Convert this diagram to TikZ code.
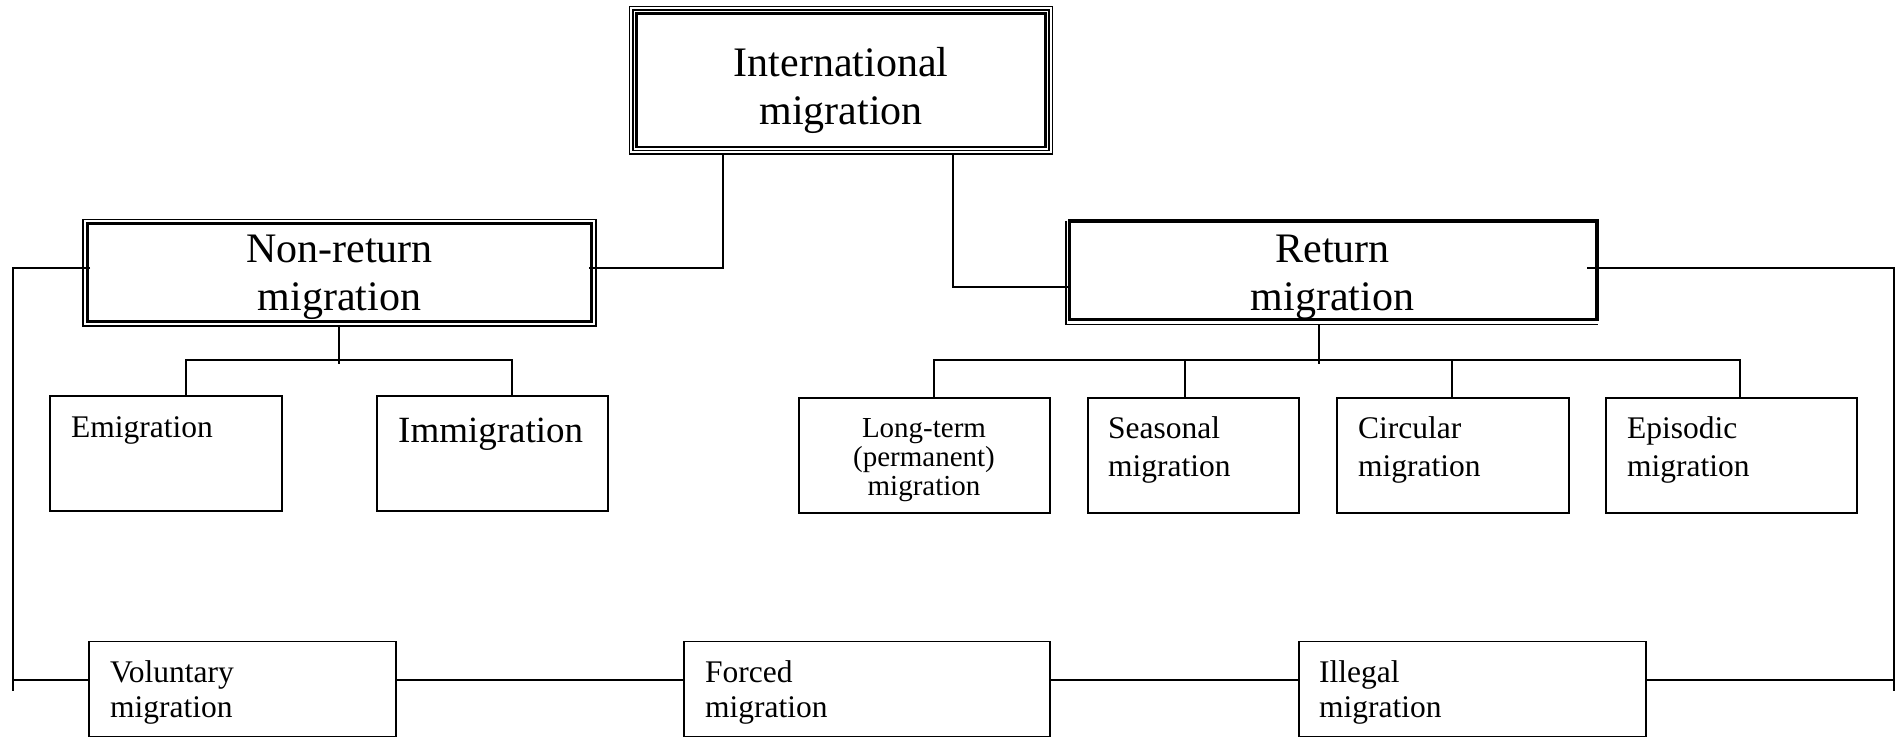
\documentclass[tikz,border=0pt]{standalone}
\usepackage{fontspec}
\setmainfont{Liberation Serif}
\begin{document}
\begin{tikzpicture}[x=1pt,y=-1pt,
  box/.style={draw=black,line width=1.6pt,inner sep=0pt,outer sep=0pt,rectangle},
  conn/.style={draw=black,line width=1.4pt},
  bigtxt/.style={inner sep=0pt,text width=420pt,align=center,anchor=base,font=\fontsize{42}{48}\selectfont},
  midtxt/.style={inner sep=0pt,text width=300pt,align=left,anchor=base west,font=\fontsize{31.5}{38}\selectfont},
  bottxt/.style={inner sep=0pt,text width=300pt,align=left,anchor=base west,font=\fontsize{31.5}{35}\selectfont}]
\useasboundingbox[fill=white] (0,0) rectangle (1903,738);

% top box (triple frame)
\node[box,line width=1.3pt,minimum width=423pt,minimum height=147.5pt] (top) at (841,80.25) {};
\draw[line width=1.3pt] ([shift={(3.5pt,-3.5pt)}]top.north west) rectangle ([shift={(-3.5pt,3.5pt)}]top.south east);
\draw[line width=2.6pt] ([shift={(7pt,-7pt)}]top.north west) rectangle ([shift={(-7pt,7pt)}]top.south east);
\node[bigtxt] (topT) at (841,77) {International\\migration};

% non-return box (double frame)
\node[box,line width=1.3pt,minimum width=513pt,minimum height=106.5pt] (nonret) at (339.5,272.75) {};
\draw[line width=3.4pt] ([shift={(4.3pt,-4.3pt)}]nonret.north west) rectangle ([shift={(-4.3pt,4.3pt)}]nonret.south east);
\node[bigtxt] (nonretT) at (339.5,262) {Non-return\\migration};

% return box
\node[box,line width=3.6pt,minimum width=527.5pt,minimum height=98.5pt] (ret) at (1333.25,270.25) {};
\draw[line width=1.3pt] ([shift={(-3.5pt,0pt)}]ret.north west) -- ([shift={(-3.5pt,-5pt)}]ret.south west) -- ([shift={(1pt,-5pt)}]ret.south east);
\node[bigtxt] (retT) at (1332.5,262) {Return\\migration};

% second-level boxes
\node[box,minimum width=232pt,minimum height=115pt] (emi) at (166,453.5) {};
\node[midtxt] (emiT) at (71,437) {Emigration};
\node[box,minimum width=231pt,minimum height=115pt] (imm) at (492.5,453.5) {};
\node[inner sep=0pt,anchor=base west,font=\fontsize{37}{42}\selectfont] (immT) at (398,442) {Immigration};

\node[box,minimum width=251pt,minimum height=115pt] (lt) at (924.5,455.5) {};
\node[inner sep=0pt,text width=240pt,align=center,anchor=base,font=\fontsize{29}{29}\selectfont] (ltT) at (924,437) {Long-term\\(permanent)\\migration};
\node[box,minimum width=211pt,minimum height=115pt] (sea) at (1193.5,455.5) {};
\node[midtxt] (seaT) at (1108,438) {Seasonal\\migration};
\node[box,minimum width=232pt,minimum height=115pt] (cir) at (1453,455.5) {};
\node[midtxt] (cirT) at (1358,438) {Circular\\migration};
\node[box,minimum width=251pt,minimum height=115pt] (epi) at (1731.5,455.5) {};
\node[midtxt] (epiT) at (1627,438) {Episodic\\migration};

% bottom boxes
\node[box,minimum width=307pt,minimum height=95pt] (vol) at (242.5,689) {};
\node[bottxt] (volT) at (110,682) {Voluntary\\migration};
\node[box,minimum width=366pt,minimum height=95pt] (forc) at (867,689) {};
\node[bottxt] (forcT) at (705,682) {Forced\\migration};
\node[box,minimum width=347pt,minimum height=95pt] (ill) at (1472.5,689) {};
\node[bottxt] (illT) at (1319,682) {Illegal\\migration};

% junction coordinates
\coordinate (jL) at (723,268);
\coordinate (jR) at (953,287);
\coordinate (lc) at (13,268);
\coordinate (lb) at (13,691);
\coordinate (rc) at (1894,268);
\coordinate (rb) at (1894,691);
\coordinate (bl) at (13,680);
\coordinate (nj) at (339,360);
\coordinate (ne) at (186,360);
\coordinate (ni) at (512,360);
\coordinate (rj) at (1319,360);
\coordinate (r1) at (934,360);
\coordinate (r2) at (1185,360);
\coordinate (r3) at (1452,360);
\coordinate (r4) at (1740,360);

% connectors
\draw[conn] (top.south -| jL) -- (jL) -- ([xshift=-7pt]nonret.east |- jL);
\draw[conn] (top.south -| jR) -- (jR) -- (ret.west |- jR);
\draw[conn] ([xshift=7pt]nonret.west |- lc) -- (lc) -- (lb);
\draw[conn] ([xshift=-10pt]ret.east |- rc) -- (rc) -- (rb);
\draw[conn] (bl) -- (vol.west |- bl);
\draw[conn] (vol.east |- bl) -- (forc.west |- bl);
\draw[conn] (forc.east |- bl) -- (ill.west |- bl);
\draw[conn] (ill.east |- bl) -- (bl -| rc);

\draw[conn] (nonret.south -| nj) -- ([yshift=-4pt]nj);
\draw[conn] (emi.north -| ne) -- (ne) -- (ni) -- (imm.north -| ni);

\draw[conn] ([yshift=-5pt]ret.south -| rj) -- ([yshift=-4pt]rj);
\draw[conn] (lt.north -| r1) -- (r1) -- (r4) -- (epi.north -| r4);
\draw[conn] (r2) -- (sea.north -| r2);
\draw[conn] (r3) -- (cir.north -| r3);
\end{tikzpicture}
\end{document}
